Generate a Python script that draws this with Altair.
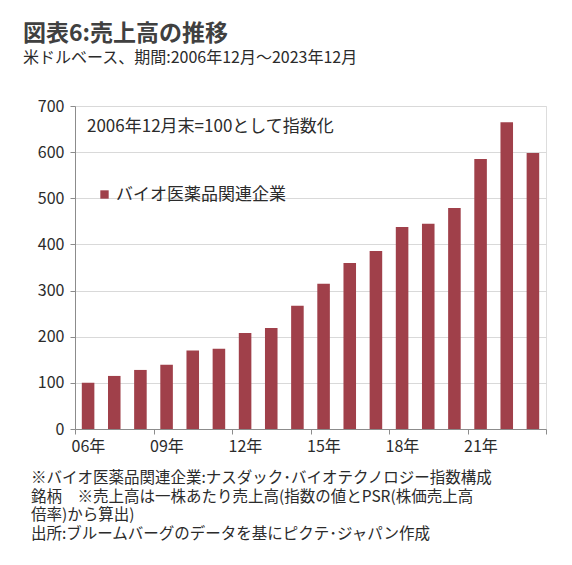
import altair as alt
import pandas as pd

# data
years = ["06", "07", "08", "09", "10", "11", "12", "13", "14", "15",
         "16", "17", "18", "19", "20", "21", "22", "23"]
values = [100, 115, 128, 139, 170, 174, 208, 219, 267, 315,
          360, 386, 438, 445, 479, 585, 665, 598]
series_name = "バイオ医薬品関連企業"
tick_positions = [0, 3, 6, 9, 12, 15, 18]
y_ticks = [0, 100, 200, 300, 400, 500, 600, 700]

title_text = "図表6:売上高の推移"
subtitle_text = "米ドルベース、期間:2006年12月～2023年12月"
note_text = "2006年12月末=100として指数化"
footnotes = [
    "※バイオ医薬品関連企業:ナスダック･バイオテクノロジー指数構成",
    "銘柄　※売上高は一株あたり売上高(指数の値とPSR(株価売上高",
    "倍率)から算出)",
    "出所:ブルームバーグのデータを基にピクテ･ジャパン作成",
]

FONT = "Noto Sans CJK JP"
BAR = "#A0404A"
TXT = "#2b2b2b"

df = pd.DataFrame({
    "idx": list(range(len(years))),
    "year": years,
    "value": values,
    "series": series_name,
})
df["x0"] = df["idx"] + 0.26
df["x1"] = df["idx"] + 0.74

one = pd.DataFrame({"k": [0]})

label_arr = "[" + ",".join("'" + y + "年'" for y in years) + "]"
label_expr = f"datum.value < {len(years)} ? {label_arr}[datum.value] : ''"

x_scale = alt.Scale(domain=[0, len(years)], nice=False, zero=False)
y_scale = alt.Scale(domain=[0, 700], nice=False)

bars = alt.Chart(df).mark_bar(cornerRadius=0).encode(
    x=alt.X("x0:Q", scale=x_scale,
            axis=alt.Axis(values=tick_positions, labelExpr=label_expr,
                          title=None, grid=False, domainColor="#8c8c8c",
                          tickColor="#8c8c8c", tickSize=5, labelAlign="left",
                          labelOffset=-4, labelPadding=4, labelFontSize=16,
                          labelColor=TXT, labelFont=FONT, labelFlush=False)),
    x2="x1:Q",
    y=alt.Y("value:Q", scale=y_scale,
            axis=alt.Axis(values=y_ticks, title=None, grid=True,
                          gridColor="#d9d9d9", domainColor="#8c8c8c",
                          tickColor="#8c8c8c", tickSize=5, labelPadding=6,
                          labelFontSize=16, labelColor=TXT, labelFont=FONT)),
    y2=alt.datum(0),
    color=alt.Color("series:N", scale=alt.Scale(range=[BAR]),
                    legend=alt.Legend(orient="none", legendX=21, legendY=80,
                                      title=None, symbolType="square",
                                      symbolSize=70, symbolStrokeWidth=0,
                                      labelFontSize=17, labelColor=TXT,
                                      labelFont=FONT, padding=0,
                                      labelOffset=3, labelLimit=0)),
)

note = alt.Chart(one).mark_text(
    align="left", baseline="middle", fontSize=17, color=TXT, font=FONT
).encode(x=alt.value(12), y=alt.value(21), text=alt.value(note_text))

foot = alt.Chart(one).mark_text(
    align="left", baseline="top", fontSize=15.5, color=TXT, font=FONT,
    lineBreak="\n", lineHeight=18.7
).encode(x=alt.value(-44), y=alt.value(365), text=alt.value("\n".join(footnotes)))

chart = alt.layer(bars, note, foot).properties(
    width=471,
    height=323,
    padding={"left": 67, "top": 98, "right": 10, "bottom": 122},
    autosize=alt.AutoSizeParams(type="none"),
    title=alt.TitleParams(
        text=title_text, subtitle=subtitle_text, anchor="start", frame="group",
        dx=-52, offset=32, font=FONT, fontSize=23, fontWeight="bold",
        color="#404040", subtitleFont=FONT, subtitleFontSize=16,
        subtitleColor=TXT, subtitlePadding=4,
    ),
).configure_view(stroke=None).configure(font=FONT, background="white")

chart.save("out.html", embed_options={"renderer": "svg", "actions": False})
